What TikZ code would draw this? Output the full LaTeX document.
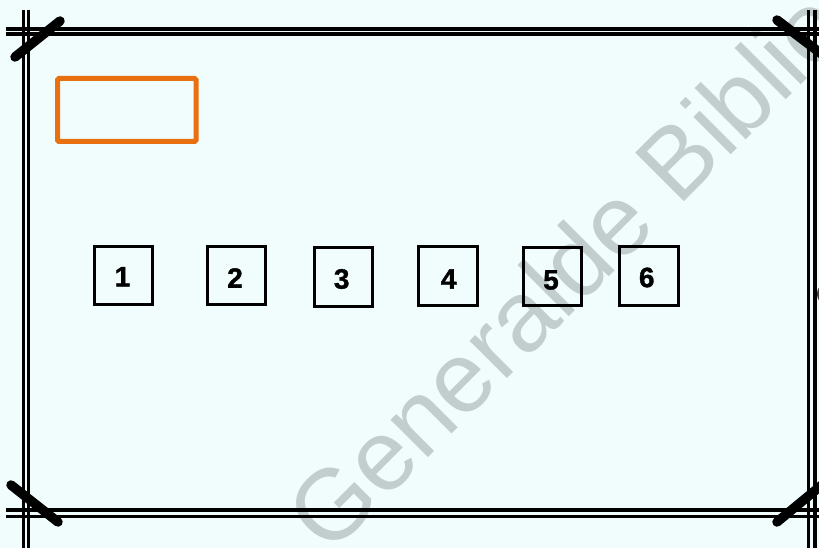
\documentclass[tikz,border=0pt]{standalone}
\usepackage{fontspec}
\setmainfont{Liberation Sans}
\newfontfamily\numfont[FakeBold=1.2]{Liberation Sans Bold}
\definecolor{bgc}{RGB}{241,252,252}
\definecolor{wmc}{RGB}{194,205,205}
\definecolor{orangec}{RGB}{232,112,16}
\begin{document}
\begin{tikzpicture}[x=1pt,y=-1pt,
  frameline/.style={line width=3.2pt, black},
  tape/.style={line width=9.5pt, line cap=round, black},
  numbox/.style={draw, line width=2.9pt, minimum width=58.2pt, minimum height=58.2pt, inner sep=0pt, anchor=center},
  numtext/.style={font=\fontsize{28}{28}\selectfont\numfont, inner sep=0pt, anchor=center},
  watermark/.style={font=\fontsize{100}{100}\selectfont, text=wmc, rotate=45, anchor=base west, inner sep=0pt}]
\useasboundingbox (0,0) rectangle (819,548);
\clip (0,0) rectangle (819,548);
\fill[bgc] (0,0) rectangle (819,548);
% watermark
\node[watermark] (wm) at (329,557) {Generalde Biblio};
% frame
\coordinate (tl1) at (6,29);  \coordinate (tr1) at (830,29);
\coordinate (tl2) at (6,34);  \coordinate (tr2) at (830,34);
\coordinate (bl1) at (6,510); \coordinate (br1) at (830,510);
\coordinate (bl2) at (6,516.5); \coordinate (br2) at (830,516.5);
\coordinate (lt1) at (23.3,10); \coordinate (lb1) at (23.3,560);
\coordinate (lt2) at (28.3,10); \coordinate (lb2) at (28.3,560);
\coordinate (rt1) at (808.3,10); \coordinate (rb1) at (808.3,560);
\coordinate (rt2) at (815,10); \coordinate (rb2) at (815,560);
\draw[frameline] (tl1) -- (tr1);
\draw[frameline] (tl2) -- (tr2);
\draw[frameline] (bl1) -- (br1);
\draw[frameline] (bl2) -- (br2);
\draw[frameline] (lt1) -- (lb1);
\draw[frameline] (lt2) -- (lb2);
\draw[frameline] (rt1) -- (rb1);
\draw[frameline] (rt2) -- (rb2);
% corner tapes
\coordinate (t1a) at (15,57);  \coordinate (t1b) at (60,21);
\coordinate (t2a) at (777,20); \coordinate (t2b) at (840,68);
\coordinate (t3a) at (11,485); \coordinate (t3b) at (58,522);
\coordinate (t4a) at (777,522); \coordinate (t4b) at (840,470);
\draw[tape] (t1a) -- (t1b);
\draw[tape] (t2a) -- (t2b);
\draw[tape] (t3a) -- (t3b);
\draw[tape] (t4a) -- (t4b);
% small mark at right edge
\fill[black!75] (822,294) ellipse [x radius=5, y radius=8];
% orange rectangle
\draw[orangec, line width=5pt, rounded corners=1.5pt] (57.5,78.5) rectangle (196,141.5);
% numbered boxes
\node[numbox] (b1) at (123.5,275.5) {};
\node[numbox] (b2) at (236.5,275.5) {};
\node[numbox] (b3) at (343.5,277) {};
\node[numbox] (b4) at (448,276) {};
\node[numbox] (b5) at (552.5,276.5) {};
\node[numbox] (b6) at (649,276) {};
\node[numtext] (n1) at (122.5,276.7) {1};
\node[numtext] (n2) at (235,278) {2};
\node[numtext] (n3) at (341.7,279) {3};
\node[numtext] (n4) at (448.7,279) {4};
\node[numtext] (n5) at (551,280) {5};
\node[numtext] (n6) at (646.7,277.5) {6};
\end{tikzpicture}
\end{document}
